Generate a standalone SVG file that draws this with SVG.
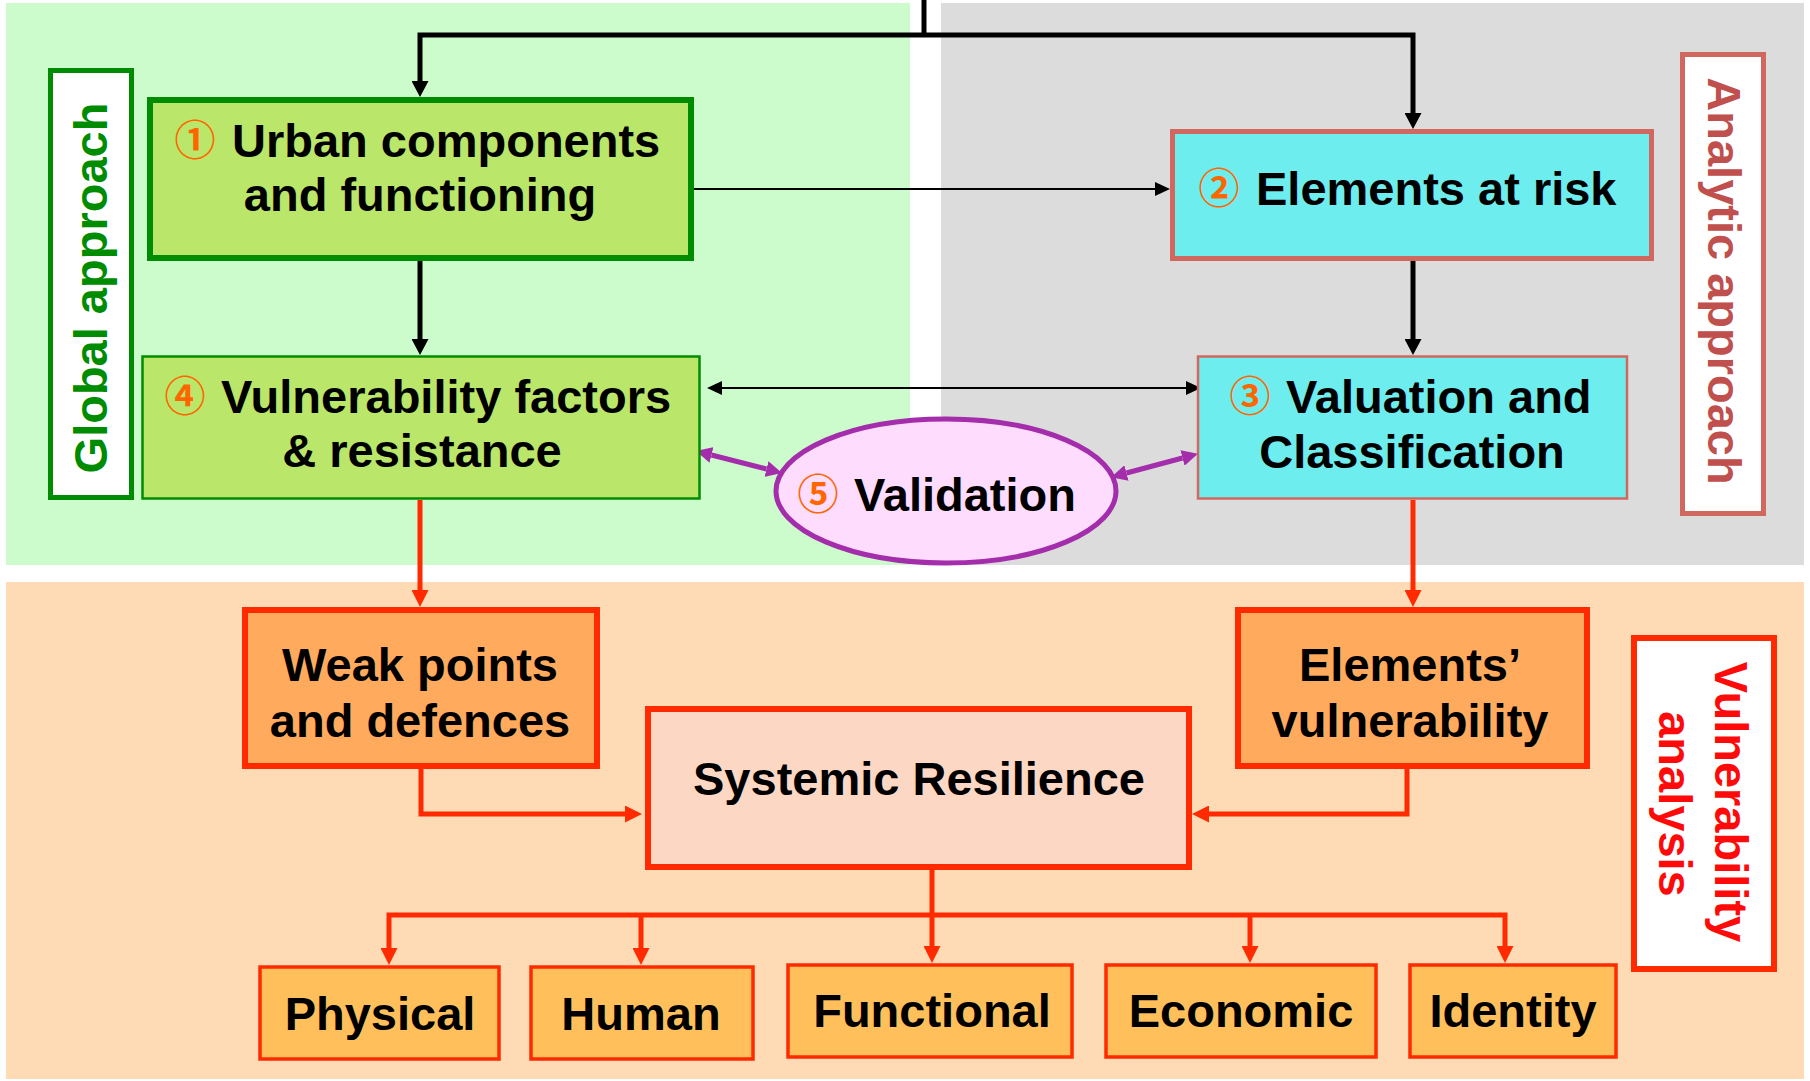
<svg xmlns="http://www.w3.org/2000/svg" width="1810" height="1081" viewBox="0 0 1810 1081">
  <style>
    .t { font-family: "Liberation Sans", Arial, "Noto Sans CJK JP", sans-serif; font-weight: bold; font-size: 47px; fill: #000; }
    .c { text-anchor: middle; }
    .num { font-family: "Noto Sans CJK JP", "DejaVu Sans", sans-serif; font-weight: bold; font-size: 41px; fill: #FF6600; text-anchor: middle; }
    .k { fill: none; stroke: #000; stroke-width: 5; }
    .kt { fill: none; stroke: #000; stroke-width: 2; }
    .r { fill: none; stroke: #FF2A00; stroke-width: 5; }
    .p { fill: none; stroke: #A32DAA; stroke-width: 5; }
    .gbox { fill: #BAE66A; stroke: #008C00; }
    .cbox { fill: #6EEDEE; stroke: #D0685F; }
    .obox { fill: #FFAA5C; stroke: #FF2A00; stroke-width: 6; }
    .ybox { fill: #FFC05C; stroke: #FF2A00; stroke-width: 3.5; }
  </style>
  <defs>
    <marker id="ak" markerUnits="userSpaceOnUse" viewBox="0 0 16 17" markerWidth="16" markerHeight="17" refX="0" refY="8.5" orient="auto-start-reverse">
      <path d="M0,0 L16,8.5 L0,17 z" fill="#000"/>
    </marker>
    <marker id="akt" markerUnits="userSpaceOnUse" viewBox="0 0 15 14" markerWidth="15" markerHeight="14" refX="0" refY="7" orient="auto-start-reverse">
      <path d="M0,0 L15,7 L0,14 z" fill="#000"/>
    </marker>
    <marker id="ar" markerUnits="userSpaceOnUse" viewBox="0 0 17 17" markerWidth="17" markerHeight="17" refX="0" refY="8.5" orient="auto-start-reverse">
      <path d="M0,0 L17,8.5 L0,17 z" fill="#FF2A00"/>
    </marker>
    <marker id="ap" markerUnits="userSpaceOnUse" viewBox="0 0 16 16" markerWidth="16" markerHeight="16" refX="0" refY="8" orient="auto-start-reverse">
      <path d="M0,0 L16,8 L0,16 z" fill="#A32DAA"/>
    </marker>
  </defs>

  <rect width="1810" height="1081" fill="#FFFFFF"/>
  <g id="backgrounds">
    <rect x="6" y="3" width="904" height="562" fill="#CCFCCC"/>
    <rect x="941" y="3" width="863" height="562" fill="#DCDCDC"/>
    <rect x="6" y="582" width="1798" height="497" fill="#FEDBB4"/>
  </g>

  <g id="connectors">
    <path class="k" d="M924,0 V35"/>
    <path class="k" d="M420,81 V35 H1413 V113" marker-start="url(#ak)" marker-end="url(#ak)"/>
    <path class="k" d="M420,261 V339" marker-end="url(#ak)"/>
    <path class="k" d="M1413,261 V339" marker-end="url(#ak)"/>
    <path class="kt" d="M694,189 H1155" marker-end="url(#akt)"/>
    <path class="kt" d="M722,388 H1186" marker-start="url(#akt)" marker-end="url(#akt)"/>
    <path class="p" d="M711.5,455 L766.5,469" marker-start="url(#ap)" marker-end="url(#ap)"/>
    <path class="p" d="M1126.5,473 L1182.5,458" marker-start="url(#ap)" marker-end="url(#ap)"/>
    <path class="r" d="M420,500 V590" marker-end="url(#ar)"/>
    <path class="r" d="M1413,500 V590" marker-end="url(#ar)"/>
    <path class="r" d="M421,769 V814 H625" marker-end="url(#ar)"/>
    <path class="r" d="M1407,768 V814 H1209" marker-end="url(#ar)"/>
    <path class="r" d="M932,870 V946" marker-end="url(#ar)"/>
    <path class="r" d="M389,948 V915 H1505 V946" marker-start="url(#ar)" marker-end="url(#ar)"/>
    <path class="r" d="M641,915 V948" marker-end="url(#ar)"/>
    <path class="r" d="M1250,915 V946" marker-end="url(#ar)"/>
  </g>

  <g id="global-approach">
    <rect x="50.5" y="70.5" width="81" height="427" fill="#FFFFFF" stroke="#008C00" stroke-width="5"/>
    <text class="t c" transform="translate(107,288) rotate(-90)" style="fill:#008C00">Global approach</text>
  </g>

  <g id="analytic-approach">
    <rect x="1682.5" y="54.5" width="81" height="459" fill="#FFFFFF" stroke="#D0685F" stroke-width="5"/>
    <text class="t c" transform="translate(1708,281) rotate(90)" style="fill:#C0504D">Analytic approach</text>
  </g>

  <g id="vulnerability-analysis">
    <rect x="1634" y="638" width="140" height="331" fill="#FFFFFF" stroke="#FF2A00" stroke-width="6"/>
    <text class="t c" transform="translate(1715,802) rotate(90)" style="fill:#FF0A0A">Vulnerability</text>
    <text class="t c" transform="translate(1659,804) rotate(90)" style="fill:#FF0A0A">analysis</text>
  </g>

  <g id="urban-components">
    <rect class="gbox" x="150" y="100" width="541" height="158" stroke-width="6"/>
    <text class="num" x="195" y="155">①</text>
    <text class="t" x="232" y="157">Urban components</text>
    <text class="t c" x="420" y="211">and functioning</text>
  </g>

  <g id="elements-at-risk">
    <rect class="cbox" x="1172.5" y="131.5" width="479" height="127" stroke-width="5"/>
    <text class="num" x="1219" y="203">②</text>
    <text class="t" x="1256" y="205">Elements at risk</text>
  </g>

  <g id="vulnerability-factors">
    <rect class="gbox" x="142.5" y="356.5" width="557" height="142" stroke-width="2.5"/>
    <text class="num" x="185" y="411">④</text>
    <text class="t" x="221" y="413">Vulnerability factors</text>
    <text class="t c" x="422" y="467">&amp; resistance</text>
  </g>

  <g id="valuation">
    <rect class="cbox" x="1198" y="356.5" width="429" height="142" stroke-width="2.5"/>
    <text class="num" x="1250" y="411">③</text>
    <text class="t" x="1286" y="413">Valuation and</text>
    <text class="t c" x="1412" y="468">Classification</text>
  </g>

  <g id="validation">
    <ellipse cx="946" cy="491" rx="170" ry="72" fill="#FEDCFE" stroke="#A32DAA" stroke-width="5"/>
    <text class="num" x="818" y="509">⑤</text>
    <text class="t" x="854" y="511">Validation</text>
  </g>

  <g id="weak-points">
    <rect class="obox" x="245" y="610" width="352" height="156"/>
    <text class="t c" x="420" y="681">Weak points</text>
    <text class="t c" x="420" y="737">and defences</text>
  </g>

  <g id="elements-vulnerability">
    <rect class="obox" x="1238" y="610" width="349" height="156"/>
    <text class="t c" x="1410" y="681">Elements’</text>
    <text class="t c" x="1410" y="737">vulnerability</text>
  </g>

  <g id="systemic-resilience">
    <rect x="648" y="709" width="541" height="158" fill="#FCD8C4" stroke="#FF2A00" stroke-width="6"/>
    <text class="t c" x="919" y="795">Systemic Resilience</text>
  </g>

  <g id="physical">
    <rect class="ybox" x="260" y="967" width="239" height="92"/>
    <text class="t c" x="380" y="1030">Physical</text>
  </g>
  <g id="human">
    <rect class="ybox" x="531" y="967" width="222" height="92"/>
    <text class="t c" x="641" y="1030">Human</text>
  </g>
  <g id="functional">
    <rect class="ybox" x="788" y="965" width="284" height="92"/>
    <text class="t c" x="932" y="1027">Functional</text>
  </g>
  <g id="economic">
    <rect class="ybox" x="1106" y="965" width="270" height="92"/>
    <text class="t c" x="1241" y="1027">Economic</text>
  </g>
  <g id="identity">
    <rect class="ybox" x="1410" y="965" width="206" height="92"/>
    <text class="t c" x="1513" y="1027">Identity</text>
  </g>
</svg>
